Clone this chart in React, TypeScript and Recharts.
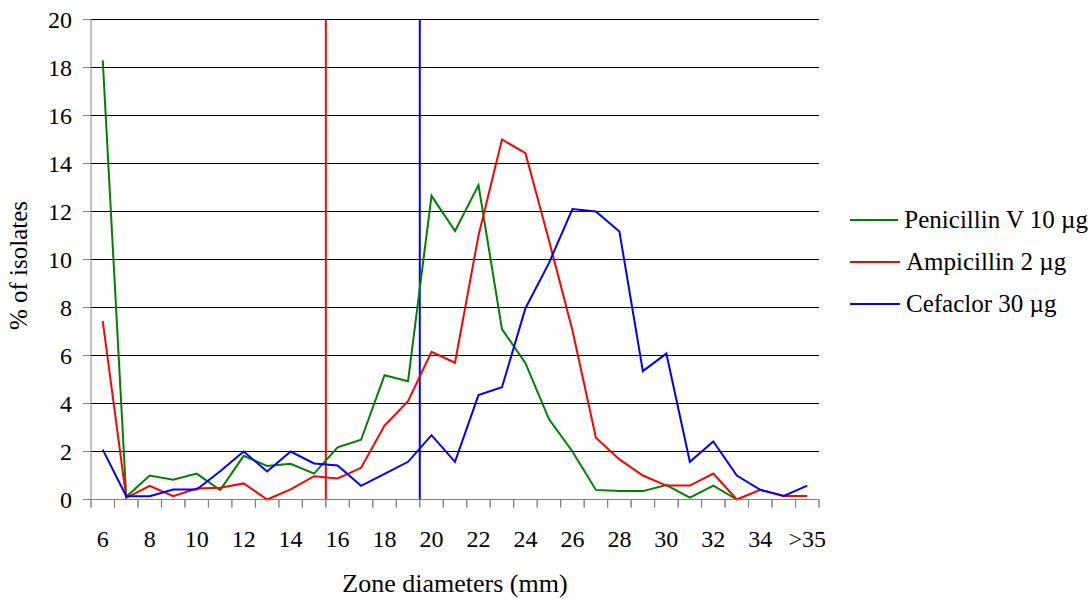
import { CartesianGrid, Label, Legend, Line, LineChart, ReferenceLine, XAxis, YAxis } from "recharts";

const FONT = "Liberation Serif, DejaVu Serif, serif";
const AXIS_GREY = "#808080";

// zone diameters in mm; 36 is the ">35" bucket
const ZONES = [6, 7, 8, 9, 10, 11, 12, 13, 14, 15, 16, 17, 18, 19, 20, 21, 22, 23, 24, 25, 26, 27, 28, 29, 30, 31, 32, 33, 34, 35, 36];
const PENICILLIN = [18.3, 0.11, 1.0, 0.82, 1.08, 0.39, 1.82, 1.4, 1.49, 1.08, 2.17, 2.49, 5.18, 4.93, 12.65, 11.19, 13.1, 7.1, 5.68, 3.35, 2.0, 0.4, 0.35, 0.35, 0.6, 0.08, 0.58, 0, null, null, null];
const AMPICILLIN = [7.43, 0.07, 0.57, 0.14, 0.46, 0.49, 0.67, 0, 0.42, 0.97, 0.88, 1.32, 3.08, 4.1, 6.15, 5.7, 11.0, 15.0, 14.43, 10.8, 7.05, 2.57, 1.67, 1.0, 0.58, 0.58, 1.08, 0, 0.4, 0.15, 0.15];
const CEFACLOR = [2.08, 0.14, 0.14, 0.42, 0.42, 1.18, 2.0, 1.17, 2.0, 1.5, 1.42, 0.57, 1.07, 1.57, 2.68, 1.57, 4.35, 4.68, 7.97, 9.85, 12.1, 12.0, 11.17, 5.35, 6.08, 1.57, 2.42, 1.0, 0.4, 0.15, 0.58];

const SERIES = [
  { key: "pen", name: "Penicillin V 10 µg", color: "#008000" },
  { key: "amp", name: "Ampicillin 2 µg", color: "#ff0000" },
  { key: "cef", name: "Cefaclor 30 µg", color: "#0000ff" },
];

const X_LABELLED = [6, 8, 10, 12, 14, 16, 18, 20, 22, 24, 26, 28, 30, 32, 34, 36];
const Y_TICKS = [0, 2, 4, 6, 8, 10, 12, 14, 16, 18, 20];
// category boundaries (tick marks sit between zones)
const BOUNDS = [...ZONES.map((z) => z - 0.5), 36.5];
// breakpoints drawn as vertical lines
const BREAKPOINTS = [
  { x: 15.5, color: "#ff0000" },
  { x: 19.5, color: "#0000ff" },
];
// boundary tick length below the axis, in y units (~8px)
const TICK_LEN = 1 / 3;

const rows = ZONES.map((zone, i) => ({
  zone,
  pen: PENICILLIN[i],
  amp: AMPICILLIN[i],
  cef: CEFACLOR[i],
}));

const zoneLabel = (v: number) => (v === 36 ? ">35" : String(v));

// ticks sit on the boundaries; the zone label goes half a step to the right
function ZoneTick({ x, y, width, payload }: any) {
  const zone = payload.value + 0.5;
  if (!X_LABELLED.includes(zone)) return <g />;
  const half = width / ZONES.length / 2;
  return (
    <text x={x + half} y={y} dy="0.71em" textAnchor="middle" fontFamily={FONT} fontSize={24} fill="#000">
      {zoneLabel(zone)}
    </text>
  );
}

function SeriesLegend({ payload }: any) {
  const order = SERIES.map((s) => s.name);
  const items = [...(payload || [])].sort((a: any, b: any) => order.indexOf(a.value) - order.indexOf(b.value));
  return (
    <div style={{ fontFamily: FONT, fontSize: 25, color: "#000" }}>
      {items.map((p: any) => (
        <div key={p.value} style={{ display: "flex", alignItems: "center", height: 42 }}>
          <svg width={50} height={4}>
            <line x1={0} x2={50} y1={2} y2={2} stroke={p.color} strokeWidth={2} />
          </svg>
          <span style={{ marginLeft: 6, whiteSpace: "nowrap" }}>{p.value}</span>
        </div>
      ))}
    </div>
  );
}

function YTitle({ viewBox }: any) {
  const x = viewBox.x + 18;
  const y = viewBox.y + viewBox.height / 2 + 6;
  return (
    <text x={x} y={y} transform={`rotate(-90, ${x}, ${y})`} textAnchor="middle" dominantBaseline="central"
      fontFamily={FONT} fontSize={25} fill="#000">
      % of isolates
    </text>
  );
}

export default function App() {
  return (
    <div style={{ position: "absolute", left: 0, top: 0, background: "#fff" }}>
      <LineChart width={1088} height={599} data={rows} margin={{ top: 19.5, right: 269, left: 0, bottom: 59.5 }}>
        <CartesianGrid vertical={false} stroke="#000" />
        <XAxis dataKey="zone" type="number" domain={[5.5, 36.5]} ticks={BOUNDS} interval={0}
          tick={<ZoneTick />} axisLine={{ stroke: AXIS_GREY }} tickLine={{ stroke: AXIS_GREY }}
          tickSize={8} tickMargin={22} height={40} allowDataOverflow>
          <Label value="Zone diameters (mm)" position="bottom" offset={34} fontFamily={FONT} fontSize={26} fill="#000" />
        </XAxis>
        <YAxis domain={[0, 20]} ticks={Y_TICKS} interval={0} width={91}
          tick={{ fill: "#000", fontSize: 24, fontFamily: FONT }}
          axisLine={{ stroke: AXIS_GREY }} tickLine={{ stroke: AXIS_GREY }} tickSize={8} tickMargin={11}
          label={{ content: <YTitle /> }} />
        {BOUNDS.map((b) => (
          <ReferenceLine key={`tick-${b}`} segment={[{ x: b, y: 0 }, { x: b, y: -TICK_LEN }]}
            stroke={AXIS_GREY} ifOverflow="visible" />
        ))}
        {BREAKPOINTS.map((b) => (
          <ReferenceLine key={b.x} x={b.x} stroke={b.color} strokeWidth={2} />
        ))}
        {SERIES.map((s) => (
          <Line key={s.key} dataKey={s.key} name={s.name} stroke={s.color} strokeWidth={2} dot={false} isAnimationActive={false} />
        ))}
        <Legend layout="vertical" align="center" verticalAlign="middle" content={<SeriesLegend />}
          wrapperStyle={{ left: 850, top: 199, width: 238 }} />
      </LineChart>
    </div>
  );
}
